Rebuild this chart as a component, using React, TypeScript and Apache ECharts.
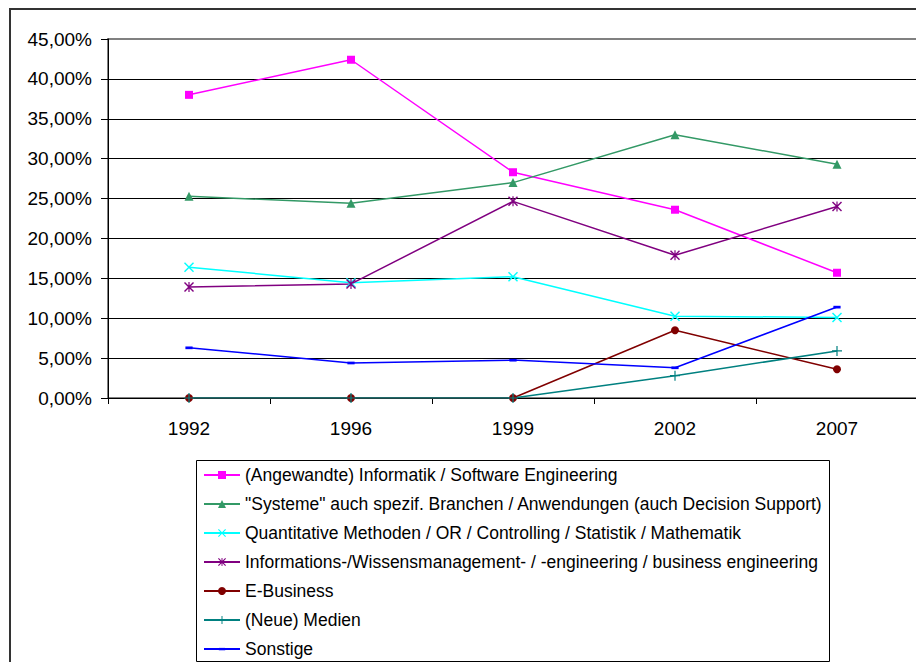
import React, { useEffect, useRef } from "react";
import * as echarts from "echarts";

const years = ["1992", "1996", "1999", "2002", "2007"];
const informatik = [38.0, 42.4, 28.3, 23.6, 15.7];
const systeme = [25.3, 24.4, 27.0, 33.0, 29.3];
const quantitativ = [16.4, 14.45, 15.2, 10.25, 10.1];
const wissensmgmt = [13.9, 14.3, 24.65, 17.9, 24.0];
const eBusiness = [0, 0, 0, 8.5, 3.6];
const medien = [0, 0, 0, 2.8, 5.9];
const sonstige = [6.3, 4.4, 4.75, 3.8, 11.4];

const names = [
  "(Angewandte) Informatik / Software Engineering",
  '"Systeme" auch spezif. Branchen / Anwendungen (auch Decision Support)',
  "Quantitative Methoden / OR / Controlling / Statistik / Mathematik",
  "Informations-/Wissensmanagement- / -engineering / business engineering",
  "E-Business",
  "(Neue) Medien",
  "Sonstige",
];

const yMax = 45;
const yStep = 5;

const FONT = "'Liberation Sans', Arial, sans-serif";
const FS = 17.5;
const AXIS_FS = 19;

const X_PATH =
  "path://M0,0 M10,10 M0,1 L1,0 L5,4 L9,0 L10,1 L6,5 L10,9 L9,10 L5,6 L1,10 L0,9 L4,5 Z";
const STAR_PATH =
  "path://M0,0 M10,10 M0,1 L1,0 L5,4 L9,0 L10,1 L6,5 L10,9 L9,10 L5,6 L1,10 L0,9 L4,5 Z M4.4,0 L5.6,0 L5.6,10 L4.4,10 Z";
const PLUS_PATH =
  "path://M0,0 M10,10 M4.4,0 L5.6,0 L5.6,4.4 L10,4.4 L10,5.6 L5.6,5.6 L5.6,10 L4.4,10 L4.4,5.6 L0,5.6 L0,4.4 L4.4,4.4 Z";
const DASH_PATH = "path://M0,0 M10,10 M1,3.6 L9,3.6 L9,6.6 L1,6.6 Z";

export default function App() {
  const ref = useRef<HTMLDivElement>(null);
  useEffect(() => {
    document.body.style.margin = "0";
    const chart = echarts.init(ref.current!, undefined, { renderer: "svg" });
    const data = [informatik, systeme, quantitativ, wissensmgmt, eBusiness, medien, sonstige];
    const colors = ["#FF00FF", "#339966", "#00FFFF", "#800080", "#800000", "#008080", "#0000FF"];
    const symbols = ["rect", "triangle", X_PATH, STAR_PATH, "circle", PLUS_PATH, DASH_PATH];
    const sizes = [8, 9, 10, 10, 8, 10, 9];
    const splitColors: string[] = [];
    for (let v = 0; v <= yMax; v += yStep) splitColors.push(v === yMax ? "#808080" : "#000000");
    chart.setOption({
      animation: false,
      backgroundColor: "#ffffff",
      textStyle: { fontFamily: FONT },
      graphic: [
        {
          type: "rect",
          shape: { x: 10, y: 9, width: 960, height: 720 },
          style: { fill: "none", stroke: "#333333", lineWidth: 2 },
          z: -1,
        },
        {
          type: "rect",
          shape: { x: 196.5, y: 460.5, width: 633, height: 201 },
          style: { fill: "#ffffff", stroke: "#000000", lineWidth: 1 },
          z: 0,
        },
      ],
      grid: {
        left: 108,
        top: 39,
        width: 810,
        height: 359,
        show: true,
        borderColor: "#808080",
        borderWidth: 2,
        containLabel: false,
      },
      xAxis: {
        type: "category",
        data: years,
        boundaryGap: true,
        axisLine: { lineStyle: { color: "#000", width: 1 } },
        axisTick: { show: true, length: 6, lineStyle: { color: "#000" } },
        axisLabel: { color: "#000", fontSize: AXIS_FS, fontFamily: FONT, margin: 21 },
        splitLine: { show: false },
      },
      yAxis: {
        type: "value",
        min: 0,
        max: yMax,
        interval: yStep,
        axisLine: { show: true, lineStyle: { color: "#000", width: 1 } },
        axisTick: { show: true, length: 7, lineStyle: { color: "#000" } },
        axisLabel: {
          color: "#000",
          fontSize: AXIS_FS,
          fontFamily: FONT,
          margin: 16,
          formatter: (v: number) => v.toFixed(2).replace(".", ",") + "%",
        },
        splitLine: { show: true, lineStyle: { color: splitColors, width: 1 } },
      },
      legend: {
        show: true,
        orient: "vertical",
        left: 203,
        top: 466,
        padding: 0,
        itemWidth: 36,
        itemHeight: 10,
        itemGap: 11,
        textStyle: { color: "#000", fontSize: FS, fontFamily: FONT },
        data: names,
        z: 5,
      },
      series: names.map((n, i) => ({
        name: n,
        type: "line",
        data: data[i],
        symbol: symbols[i],
        symbolSize: sizes[i],
        showAllSymbol: true,
        lineStyle: { color: colors[i], width: 1.5 },
        itemStyle: { color: colors[i] },
        emphasis: { disabled: true },
      })),
    });
    return () => chart.dispose();
  }, []);
  return (
    <div style={{ width: 916, height: 662, overflow: "hidden", position: "relative" }}>
      <div ref={ref} style={{ width: 940, height: 680 }} />
    </div>
  );
}
